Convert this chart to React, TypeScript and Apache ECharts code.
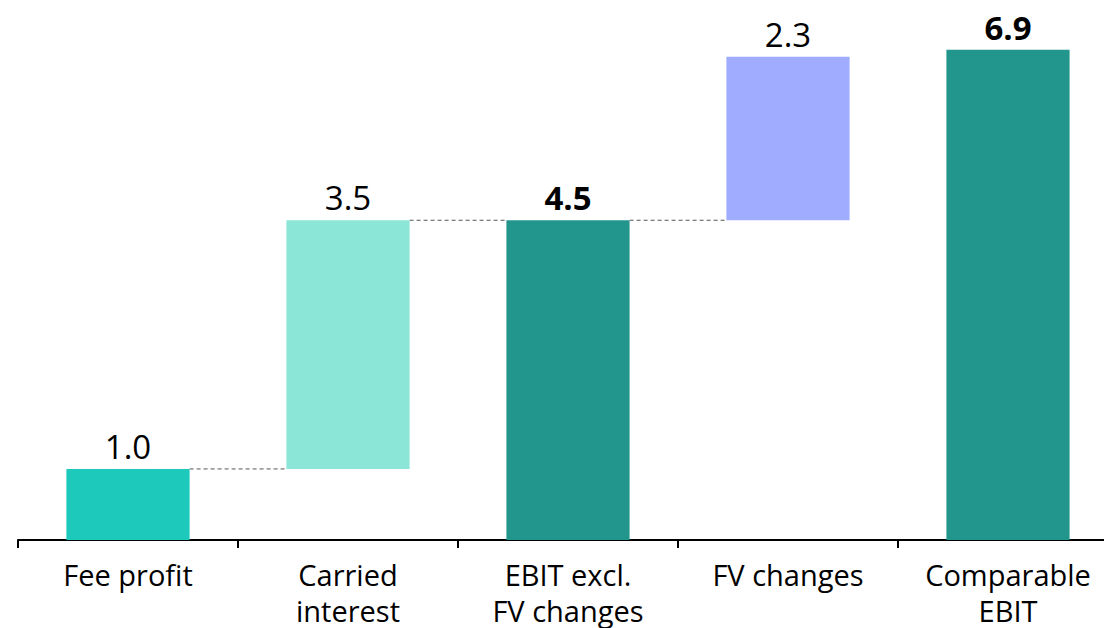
import React, { useEffect, useRef } from "react";
import * as echarts from "echarts";

const categories = ["Fee profit", "Carried\ninterest", "EBIT excl.\nFV changes", "FV changes", "Comparable\nEBIT"];
const baseValues = [0, 1.0, 0, 4.5, 0];
const barValues = [1.0, 3.5, 4.5, 2.3, 6.9];
const labelTexts = ["1.0", "3.5", "4.5", "2.3", "6.9"];
const isTotal = [false, false, true, false, true];
const barColors = ["#1DC9BB", "#8BE6D7", "#22958D", "#9FACFF", "#22958D"];
// connectors: [fromIndex, level]
const connectors: [number, number][] = [
  [0, 1.0],
  [1, 4.5],
  [2, 4.5],
];

const FONT = "'Open Sans', sans-serif";
const BAR_RATIO = 0.56;

export default function App() {
  const ref = useRef<HTMLDivElement>(null);
  useEffect(() => {
    document.body.style.margin = "0";
    document.body.style.overflow = "hidden";
    if (!ref.current) return;
    const chart = echarts.init(ref.current, null, { renderer: "svg" });
    chart.setOption({
      animation: false,
      grid: { left: 18, right: 0, top: 0, bottom: 87 },
      xAxis: {
        type: "category",
        data: categories,
        axisLine: { lineStyle: { color: "#000", width: 2 } },
        axisTick: { show: true, length: 8, lineStyle: { color: "#000", width: 2 } },
        axisLabel: {
          color: "#000",
          fontSize: 29,
          fontFamily: FONT,
          lineHeight: 36,
          margin: 16,
          interval: 0,
        },
      },
      yAxis: {
        type: "value",
        min: 0,
        max: 7.6,
        show: false,
        splitLine: { show: false },
      },
      series: [
        {
          type: "bar",
          stack: "w",
          data: baseValues,
          itemStyle: { color: "transparent" },
          barWidth: BAR_RATIO * 100 + "%",
          silent: true,
        },
        {
          type: "bar",
          stack: "w",
          barWidth: BAR_RATIO * 100 + "%",
          data: barValues.map((v, i) => ({
            value: v,
            itemStyle: { color: barColors[i] },
            label: {
              show: true,
              position: "top",
              distance: 6,
              formatter: labelTexts[i],
              fontSize: 33,
              fontFamily: FONT,
              fontWeight: isTotal[i] ? "bold" : "normal",
              color: "#000",
            },
          })),
        },
        {
          type: "custom",
          silent: true,
          data: connectors.map((c) => [c[0], c[1]]),
          encode: { x: 0, y: 1 },
          renderItem: (params: any, api: any) => {
            const idx = api.value(0);
            const level = api.value(1);
            const p1 = api.coord([idx, level]);
            const p2 = api.coord([idx + 1, level]);
            const band = api.size([1, 0])[0];
            const half = (band * BAR_RATIO) / 2;
            return {
              type: "line",
              shape: { x1: p1[0] + half, y1: p1[1], x2: p2[0] - half, y2: p2[1] },
              style: { stroke: "#555", lineWidth: 1, lineDash: [4, 3] },
            };
          },
        },
      ],
    });
    return () => chart.dispose();
  }, []);
  return (
    <div style={{ position: "fixed", left: 0, top: 0, width: 1104, height: 628, overflow: "hidden", background: "#fff" }}>
      <div ref={ref} style={{ position: "absolute", left: 0, top: 0, width: 1118, height: 628 }} />
    </div>
  );
}
